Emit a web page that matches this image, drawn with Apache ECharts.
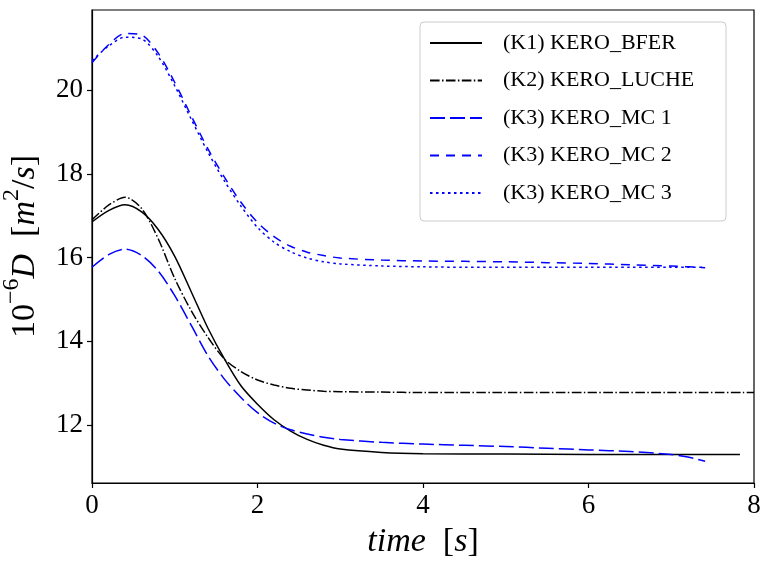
<!DOCTYPE html>
<html>
<head>
<meta charset="utf-8">
<script src="https://cdn.jsdelivr.net/npm/echarts@6/dist/echarts.min.js"></script>
<style>html,body{margin:0;padding:0;background:#fff;}#c{width:761px;height:561px;}</style>
</head>
<body>
<div id="c"></div>
<script>
// ---- data ----
const seriesNames = ['(K1) KERO_BFER', '(K2) KERO_LUCHE', '(K3) KERO_MC 1', '(K3) KERO_MC 2', '(K3) KERO_MC 3'];

const tK1 = [0, 0.2, 0.4, 0.6, 0.8, 1.0, 1.2, 1.4, 1.6, 1.8, 2.0, 2.2, 2.4, 2.6, 2.8, 3.0, 3.5, 4.0, 5.0, 6.0, 7.0, 7.83];
const vK1 = [16.85, 17.12, 17.26, 17.09, 16.67, 16.03, 15.18, 14.32, 13.58, 12.94, 12.50, 12.13, 11.86, 11.66, 11.52, 11.43, 11.35, 11.32, 11.31, 11.30, 11.30, 11.30];

const tK2 = [0, 0.2, 0.4, 0.6, 0.8, 1.0, 1.2, 1.4, 1.6, 1.8, 2.0, 2.2, 2.4, 2.6, 2.8, 3.0, 3.5, 4.0, 5.0, 6.0, 7.0, 8.0];
const vK2 = [16.90, 17.25, 17.44, 17.17, 16.45, 15.50, 14.73, 14.10, 13.58, 13.28, 13.08, 12.96, 12.88, 12.84, 12.81, 12.80, 12.79, 12.78, 12.78, 12.78, 12.78, 12.78];

const tMC = [0, 0.2, 0.4, 0.6, 0.8, 1.0, 1.2, 1.4, 1.6, 1.8, 2.0, 2.2, 2.4, 2.6, 2.8, 3.0, 3.5, 4.0, 4.5, 5.0, 5.5, 6.0, 6.5, 7.0, 7.2, 7.41];
const vMC1 = [15.77, 16.07, 16.20, 16.05, 15.68, 15.09, 14.38, 13.66, 13.10, 12.66, 12.30, 12.05, 11.89, 11.79, 11.71, 11.66, 11.59, 11.55, 11.52, 11.49, 11.45, 11.41, 11.37, 11.30, 11.24, 11.14];
const vMC2 = [20.65, 21.08, 21.35, 21.31, 20.88, 20.18, 19.38, 18.60, 17.92, 17.32, 16.84, 16.50, 16.27, 16.13, 16.05, 15.99, 15.94, 15.92, 15.91, 15.90, 15.88, 15.86, 15.83, 15.80, 15.78, 15.76];
const vMC3 = [20.70, 21.05, 21.26, 21.22, 20.80, 20.10, 19.30, 18.52, 17.83, 17.23, 16.72, 16.37, 16.14, 15.99, 15.90, 15.85, 15.80, 15.78, 15.77, 15.77, 15.77, 15.77, 15.77, 15.77, 15.77, 15.77];

const xTicks = [0, 2, 4, 6, 8];
const yTicks = [12, 14, 16, 18, 20];
const xRange = [0, 8];
const yRange = [10.62, 21.91];

// ---- build chart ----
const pair = (t, v) => t.map((x, i) => [x, v[i]]);
const FONT = 'Liberation Serif';
const BLUE = '#0000ff';

function lineSeries(name, data, color, type) {
  return {
    name: name, type: 'line', data: data,
    symbol: 'none', showSymbol: false, smooth: 0.3,
    lineStyle: { color: color, width: 1.5, type: type },
    itemStyle: { color: color },
    emphasis: { disabled: true },
    animation: false
  };
}

const chart = echarts.init(document.getElementById('c'), null, { renderer: 'canvas' });
chart.setOption({
  animation: false,
  backgroundColor: '#ffffff',
  grid: { left: 92, top: 10, width: 662, height: 473, outerBoundsMode: 'none', containLabel: false,
          show: true, borderColor: '#000', borderWidth: 1.2, backgroundColor: 'transparent' },
  legend: {
    orient: 'vertical',
    left: 420, top: 22,
    padding: [10, 11, 17, 9],
    itemWidth: 52, itemHeight: 20, itemGap: 15.5,
    backgroundColor: 'rgba(255,255,255,0.8)',
    borderColor: '#cccccc', borderWidth: 1, borderRadius: 4,
    itemStyle: { opacity: 0 },
    textStyle: { fontFamily: FONT, fontSize: 22, color: '#000', padding: [0, 0, 0, 16], lineHeight: 20, width: 212 },
    data: seriesNames
  },
  xAxis: {
    type: 'value', min: xRange[0], max: xRange[1],
    name: '{i|time}{n|  [}{i|s}{n|]}',
    nameLocation: 'middle', nameGap: 42,
    nameTextStyle: {
      rich: {
        i: { fontFamily: FONT, fontStyle: 'italic', fontSize: 34, color: '#000' },
        n: { fontFamily: FONT, fontSize: 34, color: '#000' }
      }
    },
    splitLine: { show: false },
    axisLine: { show: true, onZero: false, lineStyle: { color: '#000', width: 1.2 } },
    axisTick: { show: true, inside: false, length: 5, lineStyle: { color: '#000', width: 1.2 }, customValues: xTicks },
    axisLabel: { fontFamily: FONT, fontSize: 27, color: '#000', margin: 9, customValues: xTicks }
  },
  yAxis: {
    type: 'value', min: yRange[0], max: yRange[1],
    name: '{n|10}{sup|−6}{i|D}{n|  [}{i|m}{sup|2}{n|/}{i|s}{n|]}',
    nameLocation: 'middle', nameRotate: 90, nameGap: 50,
    nameTextStyle: {
      rich: {
        n: { fontFamily: FONT, fontSize: 34, color: '#000', lineHeight: 42, verticalAlign: 'bottom' },
        i: { fontFamily: FONT, fontStyle: 'italic', fontSize: 34, color: '#000', lineHeight: 42, verticalAlign: 'bottom' },
        sup: { fontFamily: FONT, fontSize: 24, color: '#000', lineHeight: 24, verticalAlign: 'top' }
      }
    },
    splitLine: { show: false },
    axisLine: { show: true, onZero: false, lineStyle: { color: '#000', width: 1.2 } },
    axisTick: { show: true, inside: false, length: 5, lineStyle: { color: '#000', width: 1.2 }, customValues: yTicks },
    axisLabel: { fontFamily: FONT, fontSize: 27, color: '#000', margin: 9, customValues: yTicks }
  },
  series: [
    lineSeries(seriesNames[0], pair(tK1, vK1), '#000000', 'solid'),
    lineSeries(seriesNames[1], pair(tK2, vK2), '#000000', [9.6, 2.4, 1.5, 2.4]),
    lineSeries(seriesNames[2], pair(tMC, vMC1), BLUE, [15, 5]),
    lineSeries(seriesNames[3], pair(tMC, vMC2), BLUE, [9, 7]),
    lineSeries(seriesNames[4], pair(tMC, vMC3), BLUE, [2.5, 3.5])
  ]
});
</script>
</body>
</html>
